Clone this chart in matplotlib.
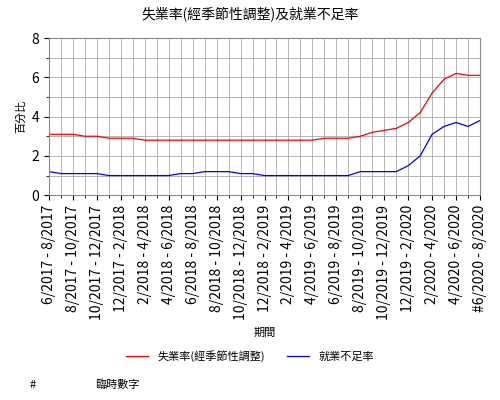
import matplotlib
matplotlib.use("Agg")
import matplotlib.pyplot as plt

plt.rcParams['font.family'] = ['Noto Sans CJK TC', 'DejaVu Sans']

periods = []
for i in range(37):
    m = 6 + i
    sy, sm = 2017 + (m - 1) // 12, (m - 1) % 12 + 1
    e = m + 2
    ey, em = 2017 + (e - 1) // 12, (e - 1) % 12 + 1
    periods.append(f"{sm}/{sy} - {em}/{ey}")
periods[-1] = "#" + periods[-1]

unemp = [3.1,3.1,3.1,3.0,3.0,2.9,2.9,2.9,2.8,2.8,2.8,2.8,2.8,2.8,2.8,2.8,2.8,2.8,2.8,2.8,2.8,2.8,2.8,
         2.9,2.9,2.9,3.0,3.2,3.3,3.4,3.7,4.2,5.2,5.9,6.2,6.1,6.1]
under = [1.2,1.1,1.1,1.1,1.1,1.0,1.0,1.0,1.0,1.0,1.0,1.1,1.1,1.2,1.2,1.2,1.1,1.1,1.0,1.0,1.0,1.0,1.0,
         1.0,1.0,1.0,1.2,1.2,1.2,1.2,1.5,2.0,3.1,3.5,3.7,3.5,3.8]

fig = plt.figure(figsize=(5, 4), dpi=100)
ax = fig.add_axes([0.098, 0.512, 0.862, 0.393])
x = list(range(len(periods)))
ax.plot(x, unemp, color='#ff0000', lw=0.9, label='失業率(經季節性調整)')
ax.plot(x, under, color='#0000ff', lw=0.9, label='就業不足率')
ax.set_xlim(0, 36)
ax.set_ylim(0, 8)
ax.set_yticks(range(0, 9, 2))
ax.set_yticks(range(0, 9), minor=True)
ax.set_xticks(x, minor=True)
ax.set_xticks(x[::2])
ax.set_xticklabels(periods[::2], rotation=90, fontsize=10)
ax.tick_params(axis='y', labelsize=10)
ax.grid(True, which='both', color='#aaaaaa', lw=0.6)
for s in ax.spines.values():
    s.set_color('#888888')
ax.set_ylabel('百分比', fontsize=8)
ax.set_xlabel('期間', fontsize=8, labelpad=6)
fig.suptitle('失業率(經季節性調整)及就業不足率', fontsize=10, y=0.985)
fig.legend(loc='center', bbox_to_anchor=(0.5, 0.11), ncol=2, frameon=False, fontsize=8)
fig.text(0.06, 0.03, '#', fontsize=8)
fig.text(0.19, 0.03, '臨時數字', fontsize=8)
fig.savefig('out.png', dpi=100)
